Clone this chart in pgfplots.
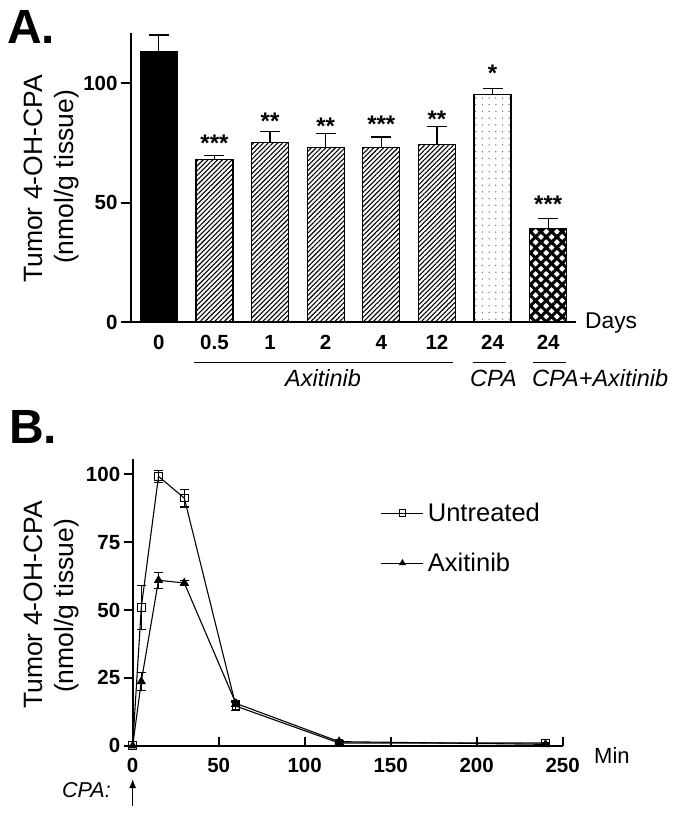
\documentclass[border=0pt]{standalone}
\usepackage{fontspec}
\setmainfont{Liberation Sans}
\usepackage{pgfplots}
\pgfplotsset{compat=1.18}
\usetikzlibrary{patterns.meta, arrows.meta}
\newcommand\fs[1]{\fontsize{#1}{#1}\selectfont}
\pgfplotsset{
  myerr/.style={error bars/.cd, y dir=plus, y explicit,
    error bar style={line width=1.2pt, black, solid},
    error mark options={rotate=90, mark size=10pt, line width=1.2pt, black}},
  perr/.style={error bars/.cd, y dir=both, y explicit,
    error bar style={line width=1.1pt, black, solid},
    error mark options={rotate=90, mark size=4.5pt, line width=1.1pt, black}},
}
\begin{document}
\begin{tikzpicture}
\useasboundingbox (0,0) rectangle (678pt,-815pt);

% ---------------- Panel A ----------------
\begin{axis}[
  at={(131pt,-322pt)}, anchor=south west,
  scale only axis, width=445pt, height=289pt,
  xmin=-0.5, xmax=7.5, ymin=0, ymax=121,
  axis x line*=bottom, axis y line*=left,
  axis line style={line width=2pt, -},
  ybar, bar width=37pt, bar shift=0pt,
  xtick={0,...,7}, xticklabels={0,0.5,1,2,4,12,24,24},
  ytick={0,50,100},
  tick align=outside, major tick length=10pt,
  xtick style={draw=none},
  ytick style={line width=2pt, black},
  ticklabel style={font=\fs{20.5}\bfseries},
  /pgf/number format/assume math mode=true,
  clip=false,
]
\addplot[fill=black, draw=black, line width=1.2pt, myerr] coordinates {(0,113.4) +- (0,6.8)};
\addplot[draw=black, line width=1.2pt, pattern={Lines[angle=45,distance=3.4pt,line width=1.1pt]}, pattern color=black, myerr]
  coordinates {(1,68.2) +- (0,1.5) (2,75.2) +- (0,4.7) (3,73.2) +- (0,5.6) (4,73.2) +- (0,4.3) (5,74.3) +- (0,7.4)};
\addplot[draw=black, line width=1.2pt, pattern={Dots[distance=6.7pt,radius=0.75pt]}, pattern color=black!55, myerr]
  coordinates {(6,95.3) +- (0,2.6)};
\addplot[draw=black, line width=1.2pt, pattern={Hatch[angle=45,distance=7.5pt,line width=3pt]}, pattern color=black, myerr]
  coordinates {(7,39.0) +- (0,4.2)};
\begin{scope}[every node/.style={font=\fs{24}\bfseries, anchor=base, inner sep=0pt}]
\node at (axis cs:1,71.2) {***};
\node at (axis cs:2,80.4) {**};
\node at (axis cs:3,78.7) {**};
\node at (axis cs:4,79.2) {***};
\node at (axis cs:5,81.5) {**};
\node at (axis cs:6,100.6) {*};
\node at (axis cs:7,45.7) {***};
\end{scope}
\end{axis}

% ---------------- Panel B ----------------
\begin{axis}[
  at={(132.7pt,-745.7pt)}, anchor=south west,
  scale only axis, width=430pt, height=286.7pt,
  xmin=0, xmax=250, ymin=0, ymax=105.7,
  axis x line*=bottom, axis y line*=left,
  axis line style={line width=2pt, -},
  xtick={0,50,...,250}, ytick={0,25,...,100},
  tick align=outside, major tick length=9pt,
  xtick style={line width=2pt, black, yshift=9pt},
  ytick style={line width=2pt, black},
  ticklabel style={font=\fs{20.5}\bfseries},
  /pgf/number format/assume math mode=true,
  clip=false,
  legend style={draw=none, fill=none, at={(0.577,0.854)}, anchor=north west,
    font=\fs{25.5}, row sep=26pt, inner sep=0pt, nodes={inner xsep=4pt}},
  legend cell align=left,
  legend image code/.code={\draw[mark repeat=2, mark phase=2, #1, line width=0.9pt, mark size=3.2pt] plot coordinates {(0pt,0pt) (21pt,0pt) (42pt,0pt)};},
]
\addplot[black, line width=1.1pt, mark=square, mark size=3.8pt, mark options={fill=white, solid, line width=1pt}, perr]
  table[x=t, y=y, y error=e] {
t y e
0 0 0
5 51 8
15 99.3 2.3
30 91.3 3.3
60 14.6 1.5
120 1.0 0.5
240 1.0 0.3
};
\addlegendentry{Untreated}
\addplot[black, line width=1.1pt, mark=triangle*, mark size=4.3pt, mark options={fill=black, solid}, perr]
  table[x=t, y=y, y error=e] {
t y e
0 0 0
5 23.7 3.3
15 61 3
30 60 0.8
60 15.6 1.2
120 1.5 0.3
240 0.5 0.2
};
\addlegendentry{Axitinib}
\end{axis}

% ---------------- annotations ----------------
\node[anchor=base west, inner sep=0pt, font=\fs{48}\bfseries] at (7pt,-43.3pt) {A.};
\node[anchor=base west, inner sep=0pt, font=\fs{48}\bfseries] at (9pt,-443pt) {B.};

\node[rotate=90, font=\fs{26.5}] at (33pt,-179pt) {Tumor 4-OH-CPA};
\node[rotate=90, font=\fs{26.5}] at (67pt,-177pt) {(nmol/g tissue)};
\node[rotate=90, font=\fs{26.5}] at (33pt,-605pt) {Tumor 4-OH-CPA};
\node[rotate=90, font=\fs{26.5}] at (67pt,-606pt) {(nmol/g tissue)};

\node[anchor=base west, inner sep=0pt, font=\fs{22.8}] at (585pt,-328pt) {Days};
\node[anchor=base west, inner sep=0pt, font=\fs{22}] at (594pt,-763.3pt) {Min};

\draw[line width=1.3pt] (194pt,-362.7pt) -- (453pt,-362.7pt);
\draw[line width=1.3pt] (472.7pt,-362.7pt) -- (505.7pt,-362.7pt);
\draw[line width=1.3pt] (533pt,-362.7pt) -- (566pt,-362.7pt);
\node[anchor=base, inner sep=0pt, font=\fs{23.5}\itshape] at (323pt,-386pt) {Axitinib};
\node[anchor=base, inner sep=0pt, font=\fs{23.5}\itshape] at (493.5pt,-386pt) {CPA};
\node[anchor=base west, inner sep=0pt, font=\fs{23.5}\itshape] at (532pt,-386pt) {CPA+Axitinib};

\node[anchor=base west, inner sep=0pt, font=\fs{21.5}\itshape] at (62pt,-797.3pt) {CPA:};
\draw[-{Latex[length=9pt,width=7pt]}, line width=1.2pt] (132.7pt,-806pt) -- (132.7pt,-779pt);
\end{tikzpicture}
\end{document}
